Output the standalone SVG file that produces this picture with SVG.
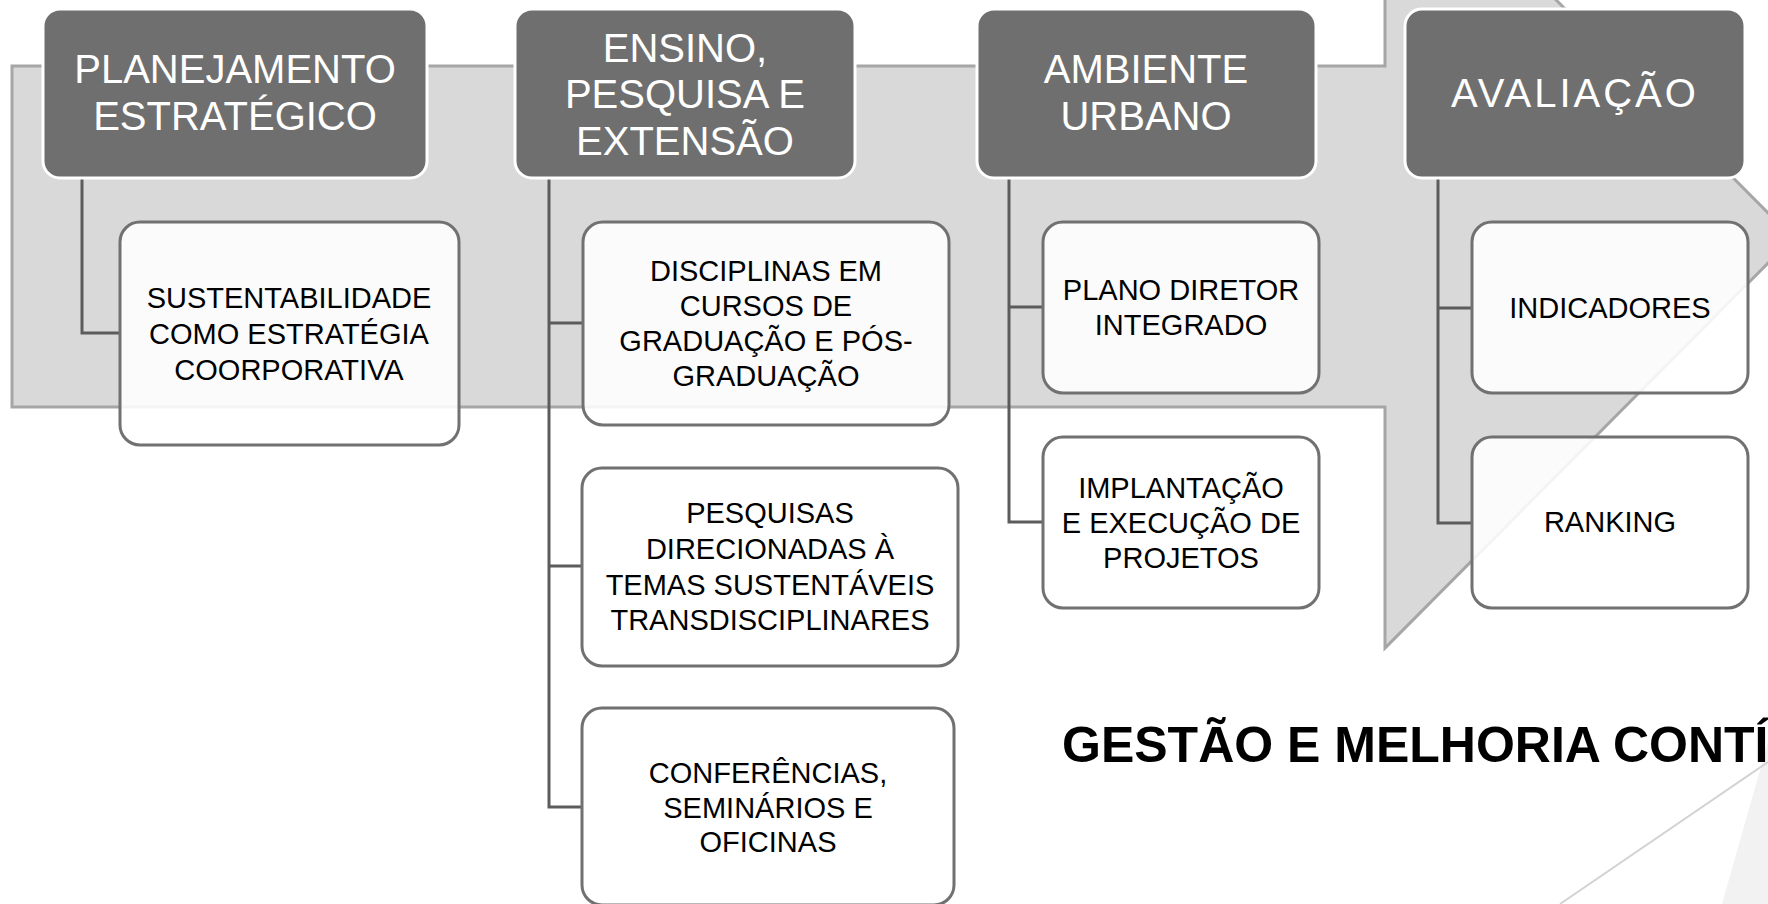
<svg xmlns="http://www.w3.org/2000/svg" width="1768" height="904" viewBox="0 0 1768 904">
<style>
.band{fill:#d9d9d9;stroke:#a6a6a6;stroke-width:3}
.hdr{fill:#6f6f6f;stroke:#ffffff;stroke-width:3}
.hdrt{font-family:"Liberation Sans",Arial,sans-serif;font-size:40px;fill:#ffffff;text-anchor:middle}
.box{fill:#ffffff;fill-opacity:0.88;stroke:#717171;stroke-width:3}
.boxt{font-family:"Liberation Sans",Arial,sans-serif;font-size:29px;fill:#000000;text-anchor:middle}
.conn{fill:none;stroke:#5c5c5c;stroke-width:3}
.title{font-family:"Liberation Sans",Arial,sans-serif;font-size:50px;font-weight:bold;fill:#000000}
</style>
<rect width="1768" height="904" fill="#ffffff"/>
<g id="decoration">
<polygon points="1722,904 1768,742 1768,904" fill="#f2f2f2"/>
<line x1="1560" y1="904" x2="1768" y2="762" stroke="#d3d3d3" stroke-width="2"/>
</g>
<g id="band-arrow">
<polygon class="band" points="12,66 1385,66 1385,-172 1793,238 1385,648 1385,407 12,407"/>
</g>
<g id="connectors">
<polyline class="conn" points="82,178 82,333 120,333"/>
<polyline class="conn" points="549,178 549,807 582,807"/>
<line class="conn" x1="549" y1="323" x2="583" y2="323"/>
<line class="conn" x1="549" y1="566" x2="582" y2="566"/>
<polyline class="conn" points="1009,178 1009,522 1043,522"/>
<line class="conn" x1="1009" y1="307" x2="1043" y2="307"/>
<polyline class="conn" points="1438,178 1438,523 1472,523"/>
<line class="conn" x1="1438" y1="308" x2="1472" y2="308"/>
</g>
<g id="h-planejamento">
<rect class="hdr" x="43" y="9" width="384" height="169" rx="17"/>
<text class="hdrt" x="235" y="83">PLANEJAMENTO</text>
<text class="hdrt" x="235" y="130">ESTRATÉGICO</text>
</g>
<g id="h-ensino">
<rect class="hdr" x="515" y="9" width="340" height="169" rx="17"/>
<text class="hdrt" x="685" y="62">ENSINO,</text>
<text class="hdrt" x="685" y="108">PESQUISA E</text>
<text class="hdrt" x="685" y="155">EXTENSÃO</text>
</g>
<g id="h-ambiente">
<rect class="hdr" x="977" y="9" width="339" height="169" rx="17"/>
<text class="hdrt" x="1146" y="83">AMBIENTE</text>
<text class="hdrt" x="1146" y="130">URBANO</text>
</g>
<g id="h-avaliacao">
<rect class="hdr" x="1405" y="9" width="340" height="169" rx="17"/>
<text class="hdrt" x="1575" y="107" letter-spacing="3">AVALIAÇÃO</text>
</g>
<g id="c-sustentabilidade">
<rect class="box" x="120" y="222" width="339" height="223" rx="20"/>
<text class="boxt" x="289" y="308">SUSTENTABILIDADE</text>
<text class="boxt" x="289" y="344">COMO ESTRATÉGIA</text>
<text class="boxt" x="289" y="380">COORPORATIVA</text>
</g>
<g id="c-disciplinas">
<rect class="box" x="583" y="222" width="366" height="203" rx="20"/>
<text class="boxt" x="766" y="281">DISCIPLINAS EM</text>
<text class="boxt" x="766" y="316">CURSOS DE</text>
<text class="boxt" x="766" y="351">GRADUAÇÃO E PÓS-</text>
<text class="boxt" x="766" y="386">GRADUAÇÃO</text>
</g>
<g id="c-pesquisas">
<rect class="box" x="582" y="468" width="376" height="198" rx="20"/>
<text class="boxt" x="770" y="523">PESQUISAS</text>
<text class="boxt" x="770" y="559">DIRECIONADAS À</text>
<text class="boxt" x="770" y="595">TEMAS SUSTENTÁVEIS</text>
<text class="boxt" x="770" y="630">TRANSDISCIPLINARES</text>
</g>
<g id="c-conferencias">
<rect class="box" x="582" y="708" width="372" height="197" rx="20"/>
<text class="boxt" x="768" y="783">CONFERÊNCIAS,</text>
<text class="boxt" x="768" y="818">SEMINÁRIOS E</text>
<text class="boxt" x="768" y="852">OFICINAS</text>
</g>
<g id="c-plano">
<rect class="box" x="1043" y="222" width="276" height="171" rx="20"/>
<text class="boxt" x="1181" y="300">PLANO DIRETOR</text>
<text class="boxt" x="1181" y="335">INTEGRADO</text>
</g>
<g id="c-implantacao">
<rect class="box" x="1043" y="437" width="276" height="171" rx="20"/>
<text class="boxt" x="1181" y="498">IMPLANTAÇÃO</text>
<text class="boxt" x="1181" y="533">E EXECUÇÃO DE</text>
<text class="boxt" x="1181" y="568">PROJETOS</text>
</g>
<g id="c-indicadores">
<rect class="box" x="1472" y="222" width="276" height="171" rx="20"/>
<text class="boxt" x="1610" y="318">INDICADORES</text>
</g>
<g id="c-ranking">
<rect class="box" x="1472" y="437" width="276" height="171" rx="20"/>
<text class="boxt" x="1610" y="532">RANKING</text>
</g>
<g id="title">
<text class="title" x="1062" y="762">GESTÃO E MELHORIA CONTÍNUA</text>
</g>
</svg>
